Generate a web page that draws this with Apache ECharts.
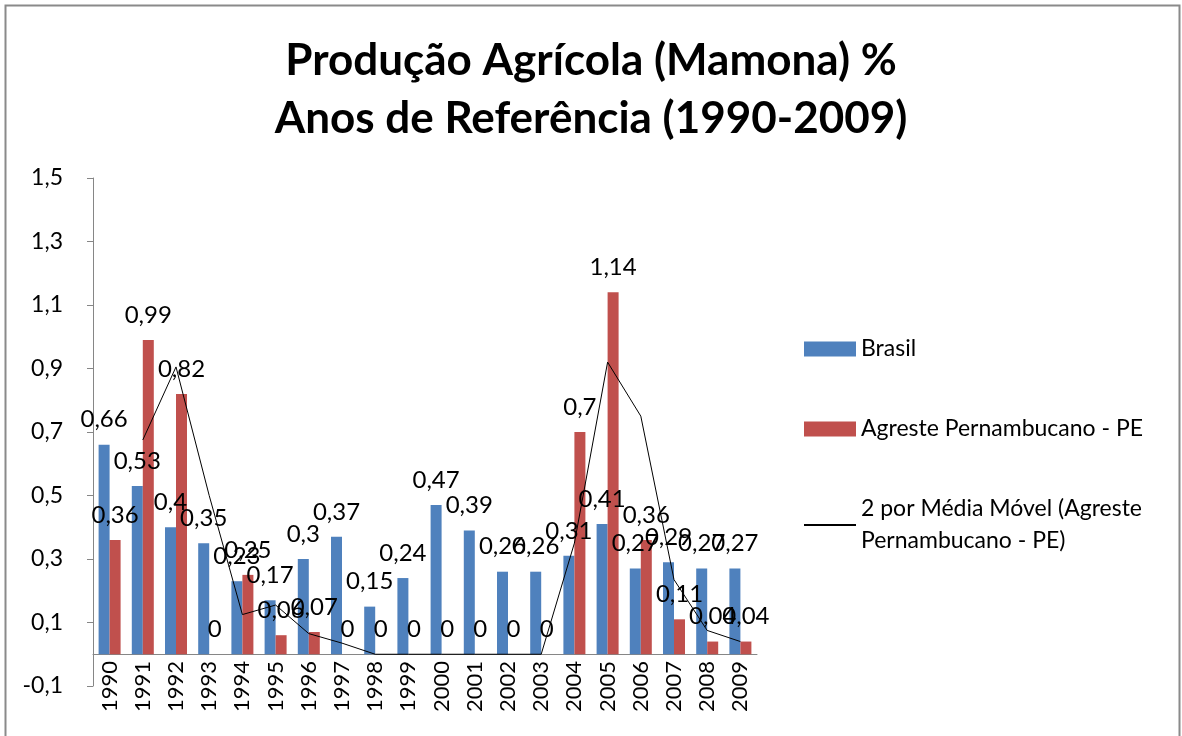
<!DOCTYPE html>
<html lang="pt">
<head>
<meta charset="UTF-8" />
<title>Produção Agrícola (Mamona)</title>
<script src="https://cdn.jsdelivr.net/npm/echarts@6/dist/echarts.min.js"></script>
<style>
  html, body { margin: 0; padding: 0; background: #fff; }
  #chart { width: 1182px; height: 736px; }
</style>
</head>
<body>
<div id="chart"></div>
<script>
// dados
const anos = ["1990", "1991", "1992", "1993", "1994", "1995", "1996", "1997", "1998", "1999",
              "2000", "2001", "2002", "2003", "2004", "2005", "2006", "2007", "2008", "2009"];
const brasil = [0.66, 0.53, 0.4, 0.35, 0.23, 0.17, 0.3, 0.37, 0.15, 0.24,
                0.47, 0.39, 0.26, 0.26, 0.31, 0.41, 0.27, 0.29, 0.27, 0.27];
const agreste = [0.36, 0.99, 0.82, 0, 0.25, 0.06, 0.07, 0, 0, 0,
                 0, 0, 0, 0, 0.7, 1.14, 0.36, 0.11, 0.04, 0.04];
// linha de média móvel, como aparece no gráfico
const mediaMovel = [null, 0.675, 0.905, 0.5, 0.125, 0.155, 0.065, 0.035, 0, 0,
                    0, 0, 0, 0, 0.35, 0.92, 0.75, 0.235, 0.075, 0.04];
const yTicks = [-0.1, 0.1, 0.3, 0.5, 0.7, 0.9, 1.1, 1.3, 1.5];

const nomeMM = "2 por Média Móvel (Agreste Pernambucano - PE)";
const fonte = "Lato, 'Open Sans', sans-serif";
const virgula = (v) => String(v).replace(".", ",");

const rotulo = {
  show: true, position: "top", distance: 13, fontSize: 24, color: "#000",
  formatter: (p) => virgula(p.value)
};

const chart = echarts.init(document.getElementById("chart"));
chart.setOption({
  animation: false,
  textStyle: { fontFamily: fonte },
  title: {
    text: "Produção Agrícola (Mamona) %\nAnos de Referência (1990-2009)",
    left: "center",
    top: 27,
    textStyle: { fontFamily: fonte, fontSize: 44, fontWeight: "bold", color: "#000", lineHeight: 58 }
  },
  graphic: [{
    type: "rect",
    shape: { x: 5.5, y: 5.5, width: 1174, height: 760 },
    style: { fill: "none", stroke: "#8a8a8a", lineWidth: 2 },
    silent: true
  }],
  legend: {
    orient: "vertical",
    left: 798,
    top: 328,
    itemWidth: 52,
    itemHeight: 15,
    itemGap: 48,
    textStyle: { fontFamily: fonte, fontSize: 23, color: "#000", lineHeight: 32 },
    formatter: (n) => n === nomeMM ? "2 por Média Móvel (Agreste\nPernambucano - PE)" : n,
    data: [
      { name: "Brasil", icon: "rect" },
      { name: "Agreste Pernambucano - PE", icon: "rect" },
      { name: nomeMM, itemStyle: { opacity: 0 } }
    ]
  },
  grid: { left: 93, right: 425, top: 178, bottom: 50, outerBoundsMode: "none", containLabel: false },
  xAxis: {
    type: "category",
    data: anos,
    axisLine: { onZero: true, lineStyle: { color: "#868686" } },
    axisTick: { length: 8, lineStyle: { color: "#868686" } },
    // os rótulos ficam na base da grade; puxa-os para logo abaixo da linha do zero
    axisLabel: { rotate: 90, fontSize: 22, color: "#000", margin: -25 }
  },
  yAxis: {
    type: "value",
    min: -0.1,
    max: 1.5,
    splitLine: { show: false },
    axisLine: { show: true, lineStyle: { color: "#868686" } },
    axisTick: { show: true, length: 6, customValues: yTicks, lineStyle: { color: "#868686" } },
    axisLabel: { fontSize: 23, color: "#000", margin: 30, customValues: yTicks, formatter: virgula }
  },
  series: [
    {
      name: "Brasil",
      type: "bar",
      data: brasil,
      barWidth: 11,
      barGap: "0%",
      itemStyle: { color: "#4F81BD" },
      label: rotulo
    },
    {
      name: "Agreste Pernambucano - PE",
      type: "bar",
      data: agreste,
      barWidth: 11,
      barGap: "0%",
      itemStyle: { color: "#C0504D" },
      label: rotulo
    },
    {
      name: nomeMM,
      type: "line",
      data: mediaMovel,
      showSymbol: false,
      symbol: "none",
      lineStyle: { color: "#000", width: 1 },
      itemStyle: { color: "#000" },
      z: 5
    }
  ]
});
</script>
</body>
</html>
